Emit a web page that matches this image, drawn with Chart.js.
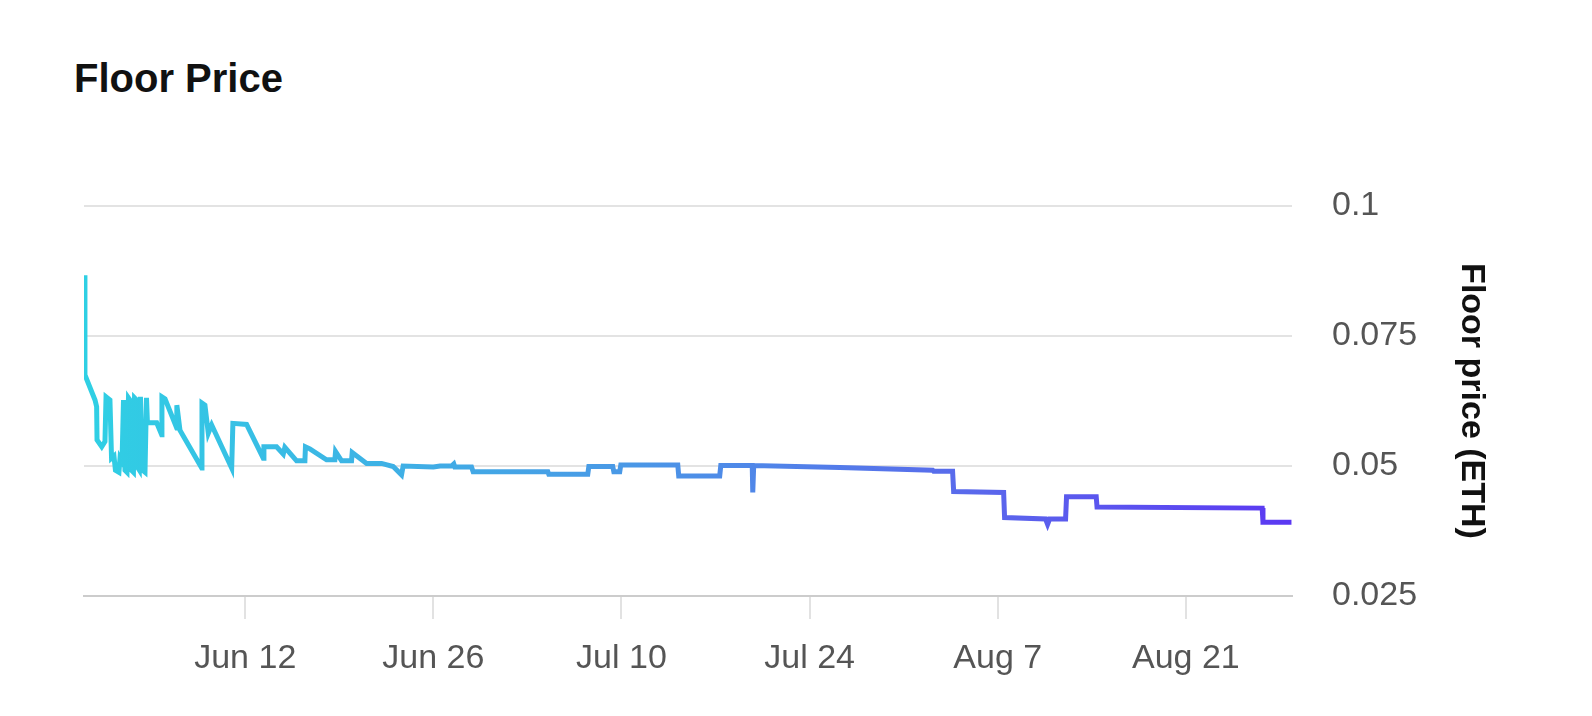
<!DOCTYPE html>
<html>
<head>
<meta charset="utf-8">
<script src="https://cdn.jsdelivr.net/npm/chart.js@4.4.1/dist/chart.umd.min.js"></script>
<style>
    html, body {
        margin: 0;
        padding: 0;
        background: #ffffff;
    }
    #wrap {
        position: relative;
        width: 1592px;
        height: 716px;
    }
    #title {
        position: absolute;
        left: 74px;
        top: 58px;
        margin: 0;
        font: bold 40px/40px "Liberation Sans", Arial, Helvetica, sans-serif;
        color: #111111;
    }
    #chart {
        position: absolute;
        left: 0;
        top: 0;
    }
</style>
</head>
<body>
<div id="wrap">
    <h2 id="title">Floor Price</h2>
    <canvas id="chart" width="1592" height="716"></canvas>
</div>
<script>
// days counted from May 31
const days = [
    0.04, 0.07, 0.82, 0.94, 0.97, 1.32, 1.56, 1.64, 1.93, 2.05,
    2.23, 2.34, 2.60, 2.68, 2.83, 2.94, 3.05, 3.20, 3.31, 3.42,
    3.53, 3.68, 3.76, 3.91, 4.02, 4.12, 4.20, 4.35, 4.54, 4.65,
    4.72, 5.41, 5.78, 5.80, 6.03, 6.90, 6.91, 7.14, 8.76, 8.78,
    9.00, 9.25, 9.50, 10.99, 11.08, 12.10, 13.34, 13.39, 14.33, 14.83,
    14.95, 15.82, 16.44, 16.48, 16.81, 18.05, 18.67, 18.72, 19.17, 19.91,
    19.96, 21.03, 22.15, 23.01, 23.63, 23.75, 26.00, 26.50, 27.35, 27.52,
    27.60, 28.84, 28.96, 34.52, 34.59, 37.49, 37.57, 39.35, 39.43, 39.87,
    39.95, 44.19, 44.26, 47.31, 47.39, 49.73, 49.77, 49.84, 56.24, 63.16,
    63.23, 64.64, 64.72, 68.44, 68.51, 71.56, 71.71, 71.86, 73.05, 73.12,
    75.33, 75.39, 87.68, 87.74, 89.86
];
const floorPrice = [
    0.0867, 0.0675, 0.0627, 0.0614, 0.0550, 0.0537, 0.0547, 0.0633, 0.0627, 0.0515,
    0.0519, 0.0492, 0.0488, 0.0515, 0.0508, 0.0627, 0.0492, 0.0488, 0.0631, 0.0627,
    0.0492, 0.0488, 0.0631, 0.0627, 0.0496, 0.0492, 0.0633, 0.0492, 0.0488, 0.0631,
    0.0583, 0.0583, 0.0560, 0.0633, 0.0629, 0.0573, 0.0617, 0.0569, 0.0496, 0.0621,
    0.0617, 0.0563, 0.0579, 0.0496, 0.0582, 0.0580, 0.0515, 0.0537, 0.0537, 0.0523,
    0.0536, 0.0510, 0.0510, 0.0537, 0.0533, 0.0512, 0.0512, 0.0528, 0.0510, 0.0510,
    0.0526, 0.0505, 0.0505, 0.0499, 0.0483, 0.0500, 0.0498, 0.0500, 0.0500, 0.0504,
    0.0498, 0.0498, 0.0489, 0.0489, 0.0484, 0.0484, 0.0499, 0.0499, 0.0489, 0.0489,
    0.0502, 0.0502, 0.0481, 0.0481, 0.0501, 0.0501, 0.0449, 0.0501, 0.0497, 0.0492,
    0.0490, 0.0490, 0.0451, 0.0449, 0.0401, 0.0398, 0.0388, 0.0398, 0.0398, 0.0441,
    0.0441, 0.0421, 0.0419, 0.0392, 0.0392
];
const xTickDays = [12, 26, 40, 54, 68, 82];
const xTickLabels = ['Jun 12', 'Jun 26', 'Jul 10', 'Jul 24', 'Aug 7', 'Aug 21'];
const yTicks = [0.025, 0.05, 0.075, 0.1];
const yTickLabels = ['0.025', '0.05', '0.075', '0.1'];

const fontFamily = '"Liberation Sans", Arial, Helvetica, sans-serif';

const lineGradient = (context) => {
    const {ctx, chartArea} = context.chart;
    if (!chartArea) return '#3fb0e6';
    const g = ctx.createLinearGradient(chartArea.left, 0, chartArea.right, 0);
    g.addColorStop(0, '#2fd0e4');
    g.addColorStop(0.45, '#4a98e6');
    g.addColorStop(0.75, '#5a66ec');
    g.addColorStop(1, '#5b38f2');
    return g;
};

new Chart(document.getElementById('chart'), {
    type: 'line',
    data: {
        datasets: [{
            label: 'Floor price',
            data: days.map((d, i) => ({x: d, y: floorPrice[i]})),
            borderColor: lineGradient,
            borderWidth: 5,
            pointRadius: 0,
            tension: 0,
            fill: false,
        }],
    },
    options: {
        responsive: false,
        animation: false,
        layout: {
            padding: {top: 206, left: 84, right: 0, bottom: 0},
        },
        plugins: {
            legend: {display: false},
            tooltip: {enabled: false},
        },
        scales: {
            x: {
                type: 'linear',
                min: 0,
                max: 89.9,
                afterBuildTicks: (scale) => {
                    scale.ticks = xTickDays.map(v => ({value: v}));
                },
                afterFit: (scale) => {
                    scale.height = 120;
                },
                ticks: {
                    autoSkip: false,
                    maxRotation: 0,
                    padding: 19,
                    color: '#555555',
                    font: {family: fontFamily, size: 34},
                    callback: (value) => xTickLabels[xTickDays.indexOf(value)],
                },
                grid: {
                    drawOnChartArea: false,
                    drawTicks: true,
                    tickLength: 23,
                    color: '#e2e2e2',
                    lineWidth: 2,
                },
                border: {display: true, color: '#cccccc', width: 2},
            },
            y: {
                type: 'linear',
                position: 'right',
                min: 0.025,
                max: 0.1,
                afterBuildTicks: (scale) => {
                    scale.ticks = yTicks.map(v => ({value: v}));
                },
                afterFit: (scale) => {
                    scale.width = 300;
                },
                ticks: {
                    padding: 40,
                    color: '#555555',
                    font: {family: fontFamily, size: 34},
                    callback: (value) => yTickLabels[yTicks.indexOf(value)],
                },
                grid: {
                    drawTicks: false,
                    color: '#e3e3e3',
                    lineWidth: 2,
                },
                border: {display: false},
                title: {
                    display: true,
                    text: 'Floor price (ETH)',
                    color: '#111111',
                    font: {family: fontFamily, size: 34, weight: 'bold'},
                    padding: {top: 100, bottom: 0},
                },
            },
        },
    },
});
</script>
</body>
</html>
